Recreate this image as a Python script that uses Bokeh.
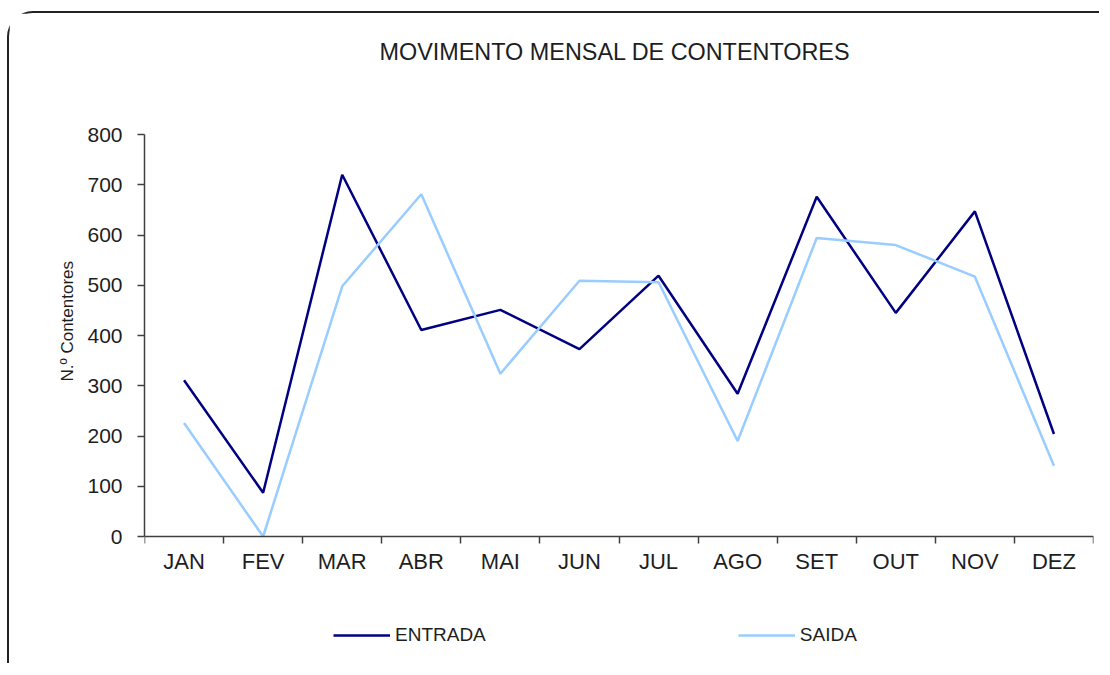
from bokeh.plotting import figure
from bokeh.models import Range1d, FixedTicker, Legend, LegendItem, LinearAxis, Title, Label
from bokeh.embed import file_html
from bokeh.resources import INLINE

months = ["JAN", "FEV", "MAR", "ABR", "MAI", "JUN", "JUL", "AGO", "SET", "OUT", "NOV", "DEZ"]
entrada = [311, 87, 720, 411, 451, 373, 519, 284, 676, 445, 647, 204]
saida = [226, 0, 498, 681, 324, 509, 506, 190, 594, 580, 517, 141]
y_ticks = [0, 100, 200, 300, 400, 500, 600, 700, 800]
title_text = "MOVIMENTO MENSAL DE CONTENTORES"

FONT = "Liberation Sans"
AXIS_COLOR = "#404040"
TEXT_COLOR = "#1e1e1e"

# layout (pixels): the 0..800 part spans 402 px, 121 px of room above it, 129 px below
Y_MAX = 800
PLOT_PX = 402
ABOVE_PX = 121
BELOW_PX = 129
PX_PER_UNIT = PLOT_PX / Y_MAX
y_bottom = -BELOW_PX / PX_PER_UNIT
y_top = Y_MAX + ABOVE_PX / PX_PER_UNIT
FRAME_W = 949
px_per_cat = FRAME_W / len(months)

xs = [i + 0.5 for i in range(len(months))]

p = figure(
    width=1092, height=652, title=None,
    output_backend="svg", toolbar_location=None,
    x_range=Range1d(0, len(months)), y_range=Range1d(y_bottom, y_top),
    x_axis_type=None, y_axis_type=None,
    min_border_left=135, min_border_right=8, min_border_top=0, min_border_bottom=0,
    styles={"border-top": "2px solid #222222", "border-left": "2px solid #222222",
            "border-top-left-radius": "26px", "margin-top": "11px", "margin-left": "7px"},
)
p.outline_line_color = None
p.xgrid.visible = False
p.ygrid.visible = False

# chart title (text placed 235 px right of the plot's left edge, 83 px above the 800 line)
p.add_layout(Label(x=235 / px_per_cat, y=Y_MAX + 83 / PX_PER_UNIT, text=title_text,
                   text_align="left", text_baseline="middle",
                   text_font=FONT, text_font_size="23.4px", text_color=TEXT_COLOR))

# y axis
yax = LinearAxis(ticker=FixedTicker(ticks=y_ticks, minor_ticks=[]), bounds=(0, Y_MAX))
yax.major_label_text_font = FONT
yax.major_label_text_font_size = "21px"
yax.major_label_text_color = TEXT_COLOR
yax.major_label_standoff = 15
yax.axis_line_color = AXIS_COLOR
yax.axis_line_width = 1.5
yax.major_tick_line_color = AXIS_COLOR
yax.major_tick_line_width = 1.5
yax.major_tick_out = 7
yax.major_tick_in = 0
yax.minor_tick_line_color = None
p.add_layout(yax, "left")

# y axis title, placed beside the 0..800 part of the axis
ytitle = Title(text="N.º Contentores", align="left", offset=284, standoff=15,
               text_font=FONT, text_font_size="17px", text_font_style="normal",
               text_color=TEXT_COLOR)
p.add_layout(ytitle, "left")

# x axis at y=0: labels at category centres, ticks at category boundaries
xax = LinearAxis(ticker=FixedTicker(ticks=xs, minor_ticks=list(range(len(months) + 1))),
                 fixed_location=0)
xax.major_label_overrides = {x: m for x, m in zip(xs, months)}
xax.major_label_text_font = FONT
xax.major_label_text_font_size = "22px"
xax.major_label_text_color = TEXT_COLOR
xax.major_label_standoff = 5
xax.axis_line_color = AXIS_COLOR
xax.axis_line_width = 1.5
xax.major_tick_line_color = None
xax.major_tick_out = 0
xax.major_tick_in = 0
xax.minor_tick_line_color = AXIS_COLOR
xax.minor_tick_line_width = 1.5
xax.minor_tick_out = 7
xax.minor_tick_in = 0
p.add_layout(xax, "below")

r1 = p.line(xs, entrada, line_color="#000080", line_width=2.5)
r2 = p.line(xs, saida, line_color="#99CCFF", line_width=2.5)

legend = Legend(
    items=[LegendItem(label="ENTRADA", renderers=[r1]), LegendItem(label="SAIDA", renderers=[r2])],
    orientation="horizontal", location=(189, 19),
    glyph_width=57, glyph_height=20, label_standoff=5, spacing=252,
    padding=0, margin=0, border_line_color=None, background_fill_alpha=0,
    label_text_font=FONT, label_text_font_size="19px", label_text_color=TEXT_COLOR,
)
p.add_layout(legend, "center")

open("out.html", "w").write(file_html(p, INLINE))
